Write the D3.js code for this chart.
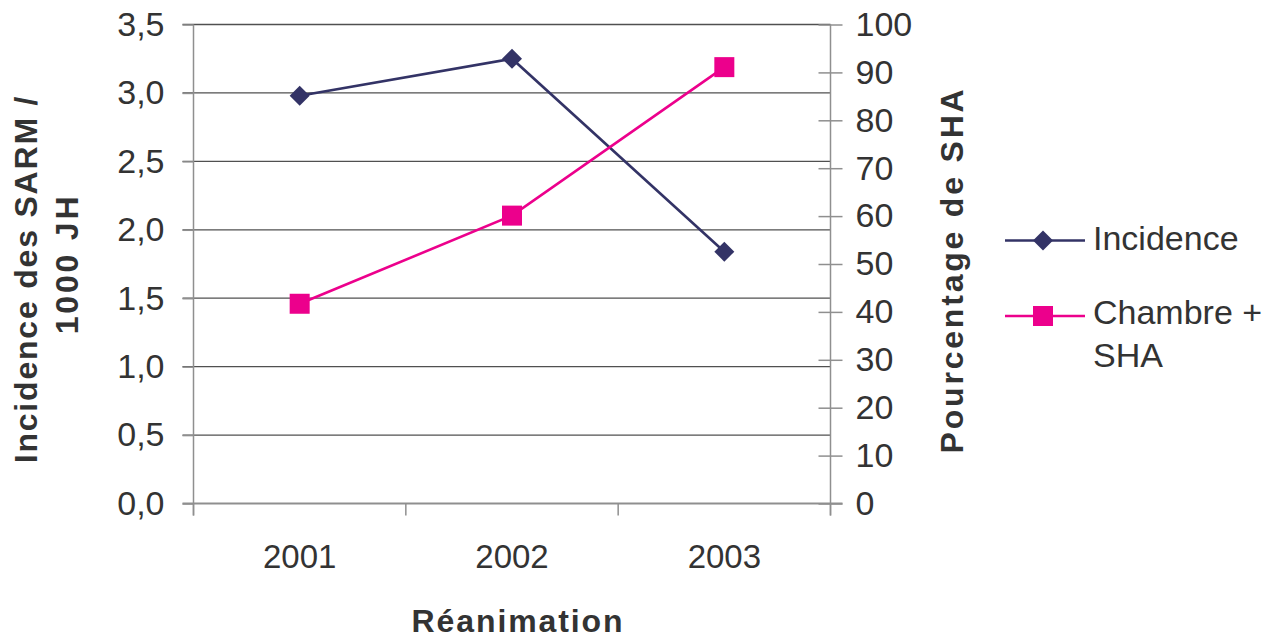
<!DOCTYPE html>
<html>
<head>
<meta charset="utf-8">
<script src="https://cdn.jsdelivr.net/npm/d3@7"></script>
<style>
  body { margin: 0; background: #fff; }
  text { font-family: "Liberation Sans", Arial, Helvetica, sans-serif; fill: #333; }
</style>
</head>
<body>
<svg id="chart" width="1281" height="642"></svg>
<script>
// Data
const years = ["2001", "2002", "2003"];
const incidence = [2.98, 3.25, 1.84];        // SARM per 1000 patient-days (left axis)
const chambreSHA = [41.7, 60.1, 91.1];       // % SHA (right axis)
const leftTicks = [0, 0.5, 1, 1.5, 2, 2.5, 3, 3.5];
const rightTicks = [0, 10, 20, 30, 40, 50, 60, 70, 80, 90, 100];
const xTitle = "Réanimation";
const leftTitle = ["Incidence des SARM /", "1000 JH"];
const rightTitle = "Pourcentage de SHA";
const legendLabels = [["Incidence"], ["Chambre +", "SHA"]];

const NAVY = "#333366", PINK = "#ec008c";
const AXIS = "#8f8f8f", GRID = "#505050";

const svg = d3.select("#chart");
const plot = { left: 193.5, right: 830.5, top: 24.5, bottom: 503.5 };

const x = d3.scaleBand().domain(years).range([plot.left, plot.right]).padding(0);
const yL = d3.scaleLinear().domain([0, 3.5]).range([plot.bottom, plot.top]);
const yR = d3.scaleLinear().domain([0, 100]).range([plot.bottom, plot.top]);
const fmtL = d => d3.format(".1f")(d).replace(".", ",");

// Horizontal gridlines (left-axis ticks)
svg.append("g").selectAll("line")
  .data(leftTicks.filter(t => t > 0))
  .join("line")
  .attr("x1", plot.left - 11).attr("x2", plot.right)
  .attr("y1", d => yL(d)).attr("y2", d => yL(d))
  .attr("stroke", GRID).attr("stroke-width", 1.3);

// Left axis
const gL = svg.append("g").attr("transform", `translate(${plot.left},0)`)
  .call(d3.axisLeft(yL).tickValues(leftTicks).tickFormat(fmtL)
    .tickSize(11).tickSizeOuter(0).tickPadding(18));
gL.select(".domain").remove();
gL.selectAll(".tick line").attr("stroke", AXIS).attr("stroke-width", 1.5);
gL.selectAll(".tick text").style("font-size", "34px").attr("fill", "#333");
svg.append("line").attr("x1", plot.left).attr("x2", plot.left)
  .attr("y1", plot.top).attr("y2", plot.bottom + 12)
  .attr("stroke", AXIS).attr("stroke-width", 1.5);

// Right axis (ticks cross the axis line)
const gR = svg.append("g").attr("transform", `translate(${plot.right},0)`)
  .call(d3.axisRight(yR).tickValues(rightTicks)
    .tickSize(12).tickSizeOuter(0).tickPadding(13));
gR.select(".domain").remove();
gR.selectAll(".tick line").attr("x1", -12).attr("stroke", AXIS).attr("stroke-width", 1.5);
gR.selectAll(".tick text").style("font-size", "34px").attr("fill", "#333");
svg.append("line").attr("x1", plot.right).attr("x2", plot.right)
  .attr("y1", plot.top).attr("y2", plot.bottom + 12)
  .attr("stroke", AXIS).attr("stroke-width", 1.5);

// Bottom axis: line, tick marks at category boundaries, labels centred
svg.append("line").attr("x1", plot.left - 11).attr("x2", plot.right + 12)
  .attr("y1", plot.bottom).attr("y2", plot.bottom)
  .attr("stroke", AXIS).attr("stroke-width", 2);
const bounds = years.map(d => x(d)).concat([x.range()[1]]);
svg.append("g").selectAll("line").data(bounds).join("line")
  .attr("x1", d => d).attr("x2", d => d)
  .attr("y1", plot.bottom).attr("y2", plot.bottom + 12)
  .attr("stroke", AXIS).attr("stroke-width", 1.5);
const gB = svg.append("g").attr("transform", `translate(0,${plot.bottom})`)
  .call(d3.axisBottom(x).tickSize(0).tickPadding(41));
gB.select(".domain").remove();
gB.selectAll(".tick text").style("font-size", "33px").attr("fill", "#333");

// Axis titles
const boldStyle = (sel, spacing) => sel.style("font-weight", "bold").style("font-size", "32px")
  .style("letter-spacing", spacing + "px").attr("text-anchor", "middle");
svg.append("text").attr("x", 518).attr("y", 632).text(xTitle).call(boldStyle, 1.9);
svg.append("text").attr("transform", "translate(37,279) rotate(-90)").text(leftTitle[0]).call(boldStyle, 1.8);
svg.append("text").attr("transform", "translate(78,264) rotate(-90)").text(leftTitle[1]).call(boldStyle, 2.8);
svg.append("text").attr("transform", "translate(963,270) rotate(-90)").text(rightTitle).call(boldStyle, 2.8);

// Series
const xc = d => x(d) + x.bandwidth() / 2;
const diamond = "M0,-10L10,0L0,10L-10,0Z";

svg.append("path")
  .datum(years.map((d, i) => [xc(d), yL(incidence[i])]))
  .attr("d", d3.line()).attr("fill", "none")
  .attr("stroke", NAVY).attr("stroke-width", 2.6);
svg.append("path")
  .datum(years.map((d, i) => [xc(d), yR(chambreSHA[i])]))
  .attr("d", d3.line()).attr("fill", "none")
  .attr("stroke", PINK).attr("stroke-width", 2.6);

svg.append("g").selectAll("path").data(years).join("path")
  .attr("transform", (d, i) => `translate(${xc(d)},${yL(incidence[i])})`)
  .attr("d", diamond).attr("fill", NAVY);
svg.append("g").selectAll("rect").data(years).join("rect")
  .attr("x", d => xc(d) - 10).attr("y", (d, i) => yR(chambreSHA[i]) - 10)
  .attr("width", 20).attr("height", 20).attr("fill", PINK);

// Legend
const legend = svg.append("g");
const legItems = [
  { color: NAVY, y: 240.5, marker: "diamond", lines: legendLabels[0], base: 250 },
  { color: PINK, y: 316, marker: "square", lines: legendLabels[1], base: 324 }
];
legItems.forEach(it => {
  legend.append("line").attr("x1", 1005).attr("x2", 1085)
    .attr("y1", it.y).attr("y2", it.y)
    .attr("stroke", it.color).attr("stroke-width", 2.6);
  if (it.marker === "diamond") {
    legend.append("path").attr("transform", `translate(1043,${it.y})`)
      .attr("d", diamond).attr("fill", it.color);
  } else {
    legend.append("rect").attr("x", 1033).attr("y", it.y - 10)
      .attr("width", 20).attr("height", 20).attr("fill", it.color);
  }
  it.lines.forEach((t, j) => {
    legend.append("text").attr("x", 1093).attr("y", it.base + j * 43)
      .style("font-size", "34px").text(t);
  });
});
</script>
</body>
</html>
